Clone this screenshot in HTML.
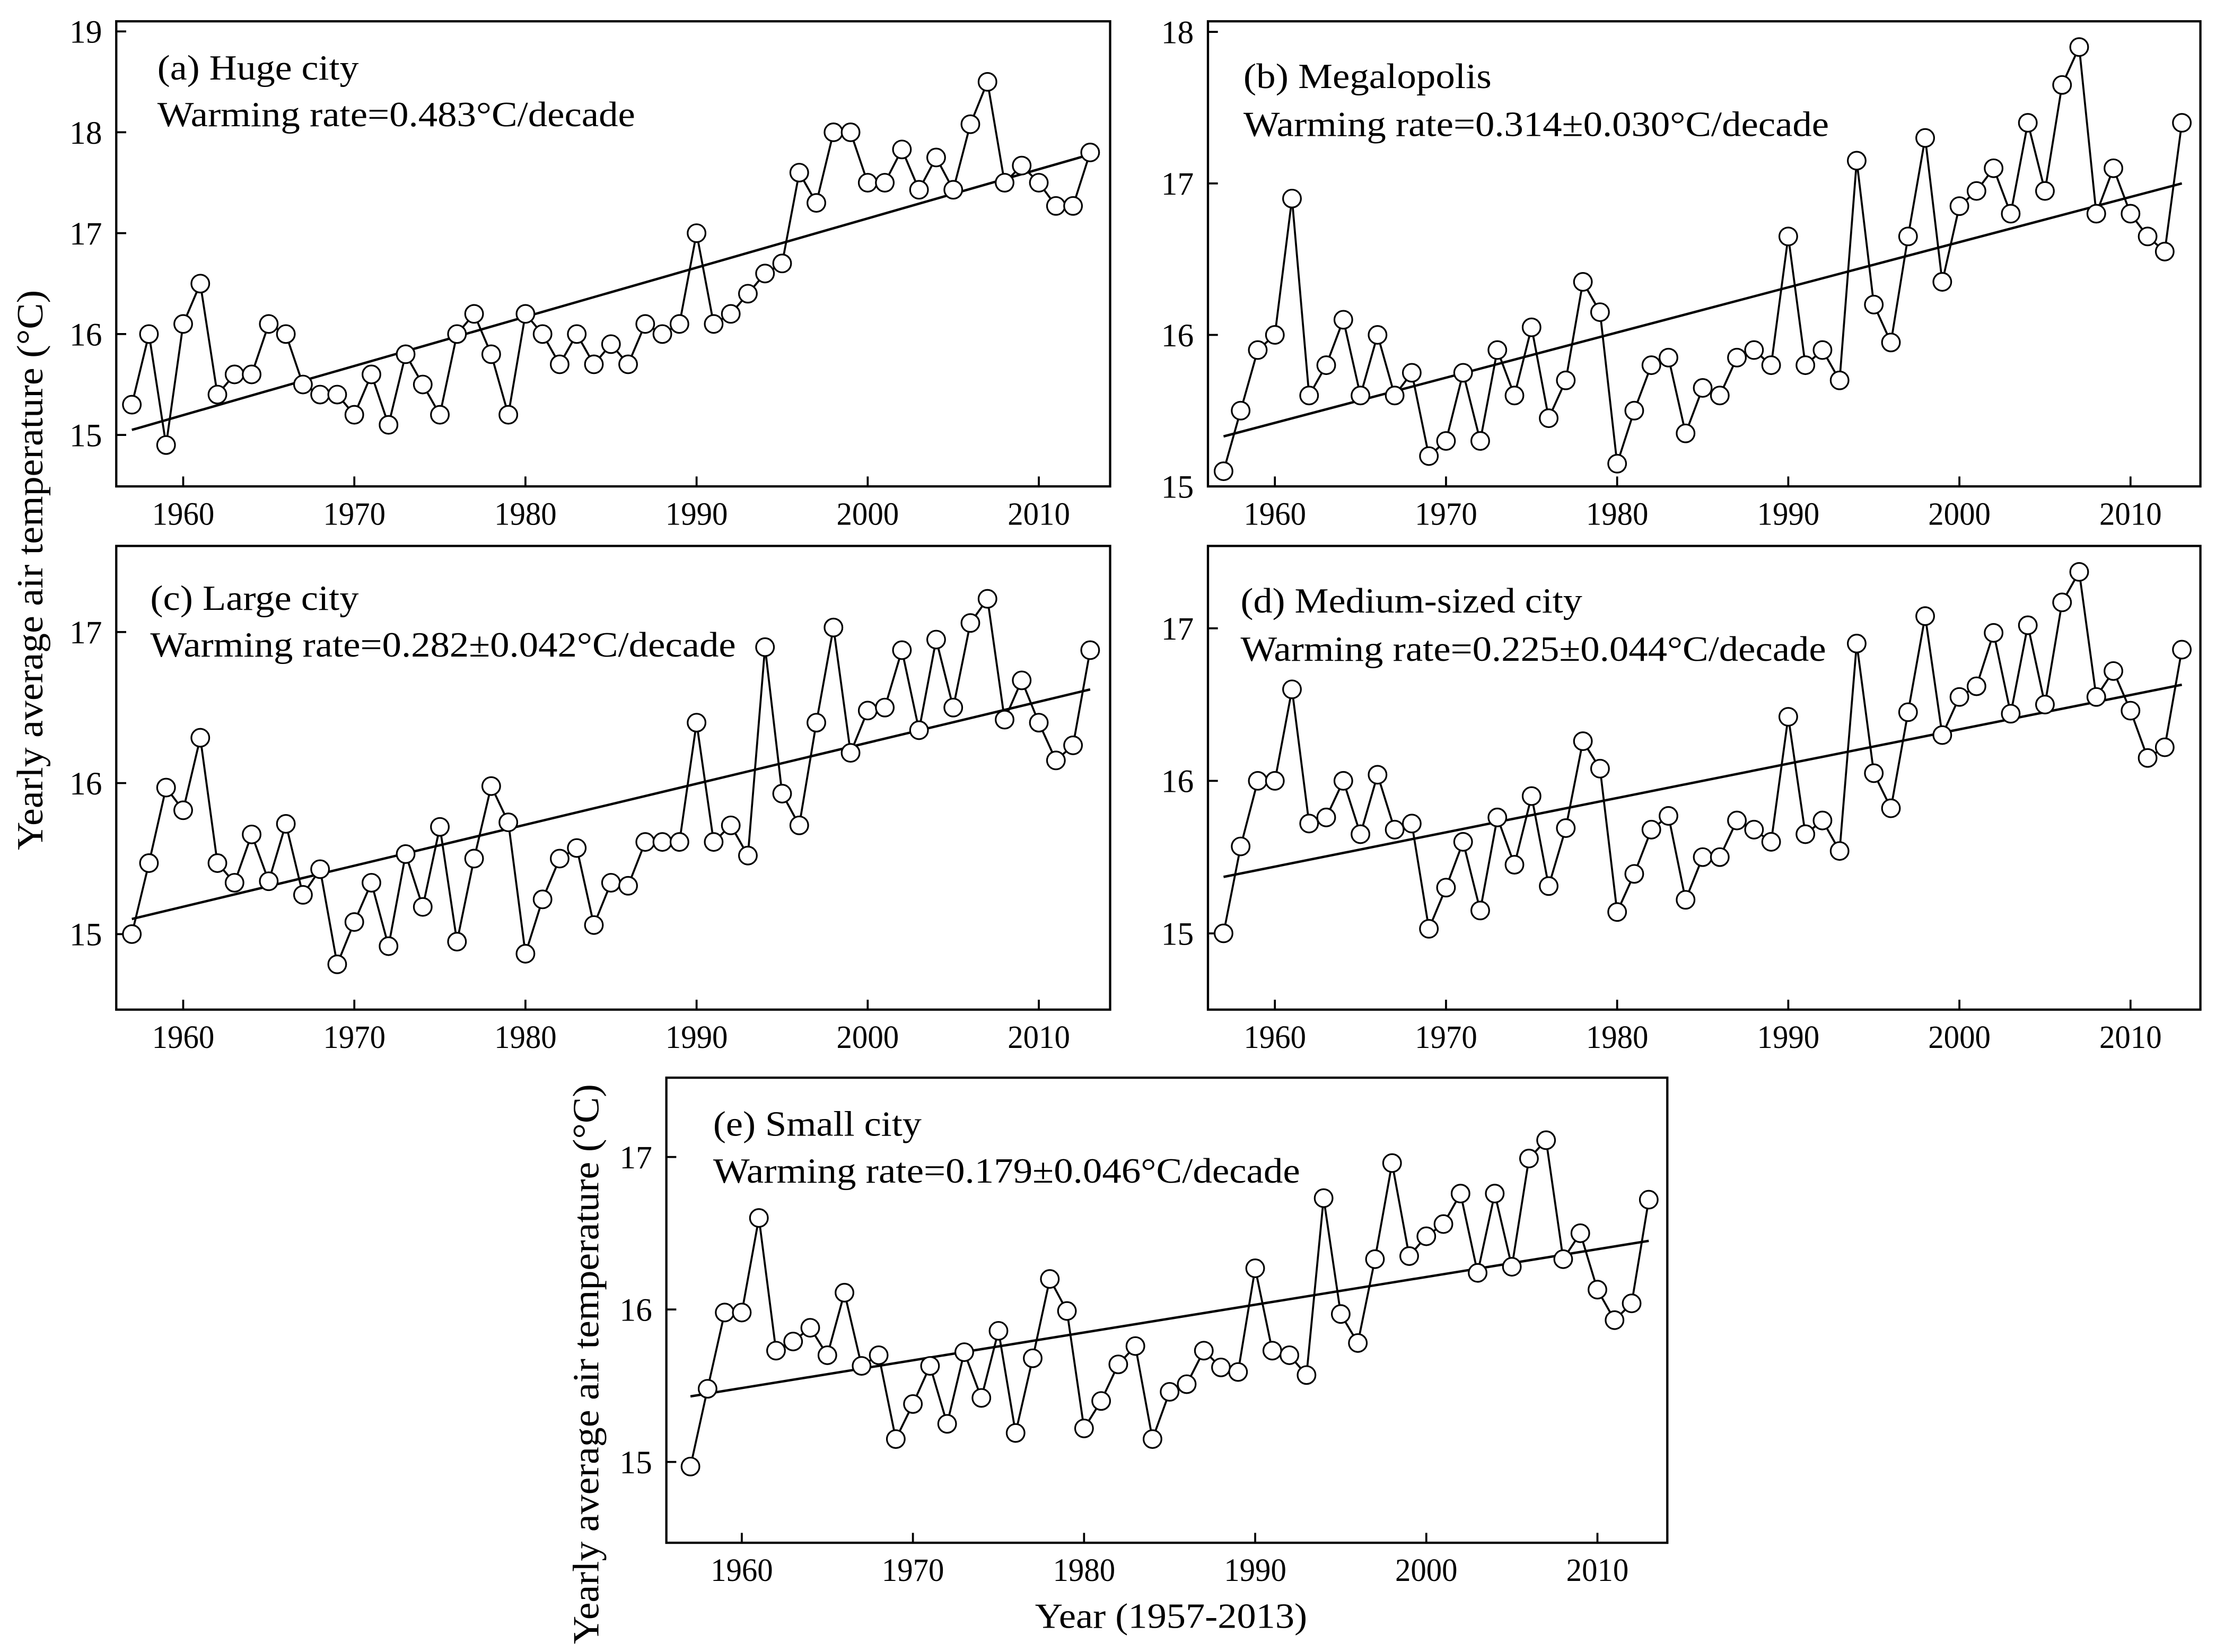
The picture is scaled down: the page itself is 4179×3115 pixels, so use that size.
<!DOCTYPE html>
<html><head><meta charset="utf-8"><style>
html,body{margin:0;padding:0;background:#fff}
svg{display:block}
text{font-family:"Liberation Serif",serif;fill:#000}
</style></head><body>
<svg id="fig" width="4179" height="3115" viewBox="0 0 1563 1165" xmlns="http://www.w3.org/2000/svg">
<text transform="translate(30,402) rotate(-90)" text-anchor="middle" font-size="26" textLength="395" lengthAdjust="spacingAndGlyphs">Yearly average air temperature (°C)</text>
<text transform="translate(422,962) rotate(-90)" text-anchor="middle" font-size="26" textLength="395" lengthAdjust="spacingAndGlyphs">Yearly average air temperature (°C)</text>
<text x="826" y="1148" text-anchor="middle" font-size="25" textLength="192" lengthAdjust="spacingAndGlyphs">Year (1957-2013)</text>
</svg>
<script>
const startYear = 1957;
const xTicks = [1960,1970,1980,1990,2000,2010];
const hugeCity = [15.3,16.0,14.9,16.1,16.5,15.4,15.6,15.6,16.1,16.0,15.5,15.4,15.4,15.2,15.6,15.1,15.8,15.5,15.2,16.0,16.2,15.8,15.2,16.2,16.0,15.7,16.0,15.7,15.9,15.7,16.1,16.0,16.1,17.0,16.1,16.2,16.4,16.6,16.7,17.6,17.3,18.0,18.0,17.5,17.5,17.83,17.43,17.75,17.43,18.08,18.5,17.5,17.67,17.5,17.27,17.27,17.8];
const megalopolis = [15.1,15.5,15.9,16.0,16.9,15.6,15.8,16.1,15.6,16.0,15.6,15.75,15.2,15.3,15.75,15.3,15.9,15.6,16.05,15.45,15.7,16.35,16.15,15.15,15.5,15.8,15.85,15.35,15.65,15.6,15.85,15.9,15.8,16.65,15.8,15.9,15.7,17.15,16.2,15.95,16.65,17.3,16.35,16.85,16.95,17.1,16.8,17.4,16.95,17.65,17.9,16.8,17.1,16.8,16.65,16.55,17.4];
const largeCity = [15.0,15.47,15.97,15.82,16.3,15.47,15.34,15.66,15.35,15.73,15.26,15.43,14.8,15.08,15.34,14.92,15.53,15.18,15.71,14.95,15.5,15.98,15.74,14.87,15.23,15.5,15.57,15.06,15.34,15.32,15.61,15.61,15.61,16.4,15.61,15.72,15.52,16.9,15.93,15.72,16.4,17.03,16.2,16.48,16.5,16.88,16.35,16.95,16.5,17.06,17.22,16.42,16.68,16.4,16.15,16.25,16.88];
const mediumCity = [15.0,15.57,16.0,16.0,16.6,15.72,15.76,16.0,15.65,16.04,15.68,15.72,15.03,15.3,15.6,15.15,15.76,15.45,15.9,15.31,15.69,16.26,16.08,15.14,15.39,15.68,15.77,15.22,15.5,15.5,15.74,15.68,15.6,16.42,15.65,15.74,15.54,16.9,16.05,15.82,16.45,17.08,16.3,16.55,16.62,16.97,16.44,17.02,16.5,17.17,17.37,16.55,16.72,16.46,16.15,16.22,16.86];
const smallCity = [14.97,15.48,15.98,15.98,16.6,15.73,15.79,15.88,15.7,16.11,15.63,15.7,15.15,15.38,15.63,15.25,15.72,15.42,15.86,15.19,15.68,16.2,15.99,15.22,15.4,15.64,15.76,15.15,15.46,15.51,15.73,15.62,15.59,16.27,15.73,15.7,15.57,16.73,15.97,15.78,16.33,16.96,16.35,16.48,16.56,16.76,16.24,16.76,16.28,16.99,17.11,16.33,16.5,16.13,15.93,16.04,16.72];
const trendHuge = [15.05,17.78];
const trendMega = [15.33,17.0];
const trendLarge = [15.1,16.62];
const trendMedium = [15.37,16.63];
const trendSmall = [15.43,16.45];
const yTicksA = [15,16,17,18,19];
const yTicksB = [15,16,17,18];
const yTicksC = [15,16,17];

const NS = "http://www.w3.org/2000/svg";
const svg = document.getElementById('fig');
function mk(tag, attrs, parent){const e=document.createElementNS(NS,tag);for(const k in attrs)e.setAttribute(k,attrs[k]);(parent||svg).appendChild(e);return e;}

function panel(key, box, yDom, x0px, data, trend, yTicks, title, rate, tpos){
  const g = mk('g',{});
  
  
  const [L,T,R,B] = box;
  const dx = 12.07;
  const xs = yr => x0px + (yr - startYear)*dx;
  const ys = v => B - (v - yDom[0])/(yDom[1]-yDom[0])*(B-T);
  const frame = mk('rect',{x:L,y:T,width:R-L,height:B-T,fill:'none',stroke:'#000','stroke-width':1.6},g);
  
  
  xTicks.forEach(t=>{
    const x=xs(t);
    mk('line',{x1:x,x2:x,y1:B,y2:B-7,stroke:'#000','stroke-width':1.4},g);
    const tx=mk('text',{x:x,y:B+27,'text-anchor':'middle','font-size':23,textLength:44,lengthAdjust:'spacingAndGlyphs'},g);
    tx.textContent=t;
    
    
  });
  yTicks.forEach(t=>{
    const y=ys(t);
    mk('line',{x1:L,x2:L+7,y1:y,y2:y,stroke:'#000','stroke-width':1.4},g);
    const tx=mk('text',{x:L-10,y:y+8,'text-anchor':'end','font-size':23},g);
    tx.textContent=t;
    
    
  });
  const tl=mk('line',{x1:xs(startYear),y1:ys(trend[0]),x2:xs(startYear+data.length-1),y2:ys(trend[1]),stroke:'#000','stroke-width':1.7},g);
  
  
  const pts=data.map((v,i)=>xs(startYear+i)+','+ys(v)).join(' ');
  const pl=mk('polyline',{points:pts,fill:'none',stroke:'#000','stroke-width':1.4},g);
  
  
  data.forEach((v,i)=>{
    const c=mk('circle',{cx:xs(startYear+i),cy:ys(v),r:6.3,fill:'#fff',stroke:'#000','stroke-width':1.2},g);
    
    
  });
  const t1=mk('text',{x:tpos[0],y:tpos[1],'font-size':25,textLength:tpos[3],lengthAdjust:'spacingAndGlyphs'},g);
  t1.textContent=title;
  
  
  const t2=mk('text',{x:tpos[0],y:tpos[2],'font-size':25,textLength:tpos[4],lengthAdjust:'spacingAndGlyphs'},g);
  t2.textContent=rate;
  
  
}
panel('huge-city',[82,15,783,343],[14.49,19.1],93,hugeCity,trendHuge,yTicksA,'(a) Huge city','Warming rate=0.483°C/decade',[111,56,89,142,337]);
panel('megalopolis',[852,15,1552,343],[15.0,18.07],863,megalopolis,trendMega,yTicksB,'(b) Megalopolis','Warming rate=0.314±0.030°C/decade',[877,62,96,175,413]);
panel('large-city',[82,385,783,712],[14.5,17.57],93,largeCity,trendLarge,yTicksC,'(c) Large city','Warming rate=0.282±0.042°C/decade',[106,430,463,147,413]);
panel('medium-city',[852,385,1552,712],[14.5,17.54],863,mediumCity,trendMedium,yTicksC,'(d) Medium-sized city','Warming rate=0.225±0.044°C/decade',[875,432,466,241,413]);
panel('small-city',[470,760,1176,1088],[14.47,17.52],487,smallCity,trendSmall,yTicksC,'(e) Small city','Warming rate=0.179±0.046°C/decade',[503,801,834,147,414]);
</script>
</body></html>
